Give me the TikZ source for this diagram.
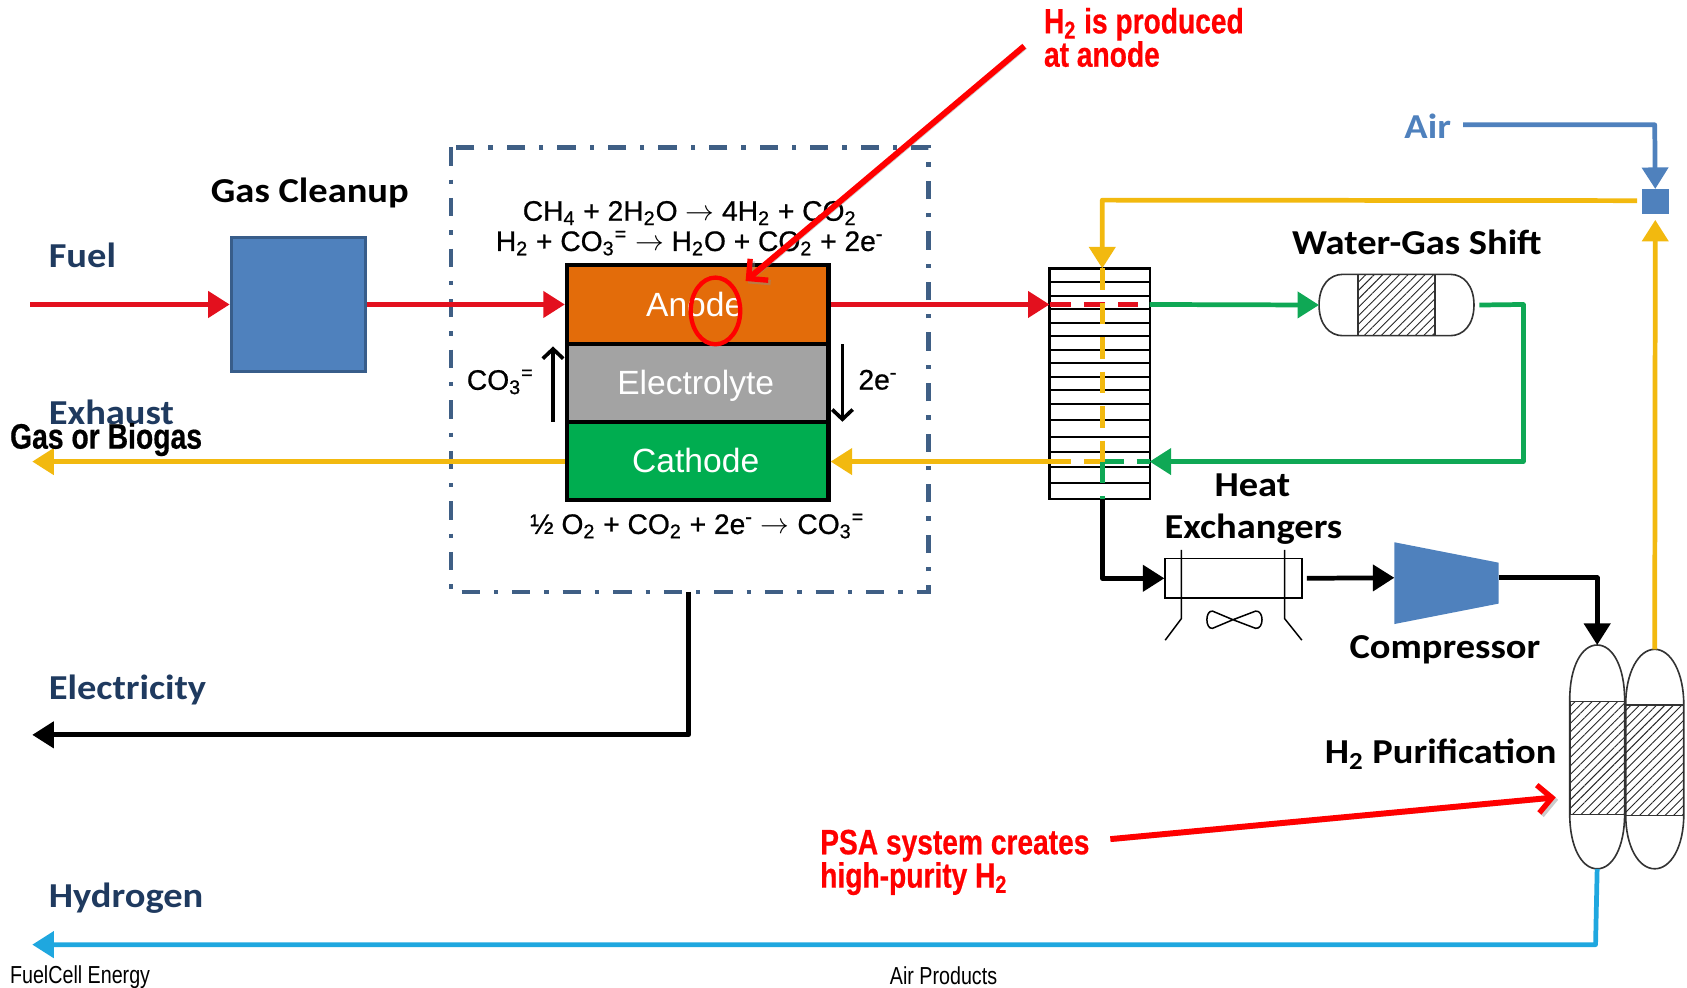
\documentclass[tikz,border=0pt]{standalone}
\usepackage{fontspec}
\setmainfont{Liberation Sans}
\newfontfamily\carl[FakeStretch=1.1]{Carlito}
\newfontfamily\narrowf[FakeStretch=0.8,BoldFeatures={FakeBold=0.5}]{Liberation Sans}
\newfontfamily\eqf[FakeBold=0.7]{Liberation Sans}
\usetikzlibrary{arrows.meta,patterns.meta,calc}
\definecolor{cblue}{HTML}{4F81BD}
\definecolor{cblueb}{HTML}{385D8A}
\definecolor{cred}{HTML}{E3101E}
\definecolor{cyel}{HTML}{F2B90F}
\definecolor{cgrn}{HTML}{0FA855}
\definecolor{ccyan}{HTML}{1FA7DF}
\definecolor{cnavy}{HTML}{1F3A5F}
\definecolor{cdash}{HTML}{3F5F85}
\definecolor{corange}{HTML}{E36C0A}
\definecolor{cgray}{HTML}{A3A3A3}
\definecolor{cgreen}{HTML}{00AD50}
\def\U{.53795pt}
\tikzset{
  x=.53795pt,y=-.53795pt,
  flow/.style={line width=4.4*\U,-{Triangle[length=20*\U,width=24*\U]}},
  flowplain/.style={line width=4.4*\U},
  dashflow/.style={line width=4.4*\U,dash pattern=on 20*\U off 12*\U},
  layer/.style={draw=black,line width=4*\U,minimum width=243*\U,inner sep=0pt,text height=11.6pt,text depth=0pt,font=\fontsize{16.8}{18}\selectfont},
  ghost/.style={inner sep=0pt,outer sep=0pt},
  title/.style={inner sep=0pt,font=\carl\bfseries\fontsize{17.5}{20}\selectfont},
  side/.style={title,anchor=west,text=cnavy},
  eqn/.style={inner sep=0pt,font=\eqf\fontsize{14.1}{15}\selectfont},
  notetext/.style={inner sep=0pt,anchor=base west,text=red,font=\narrowf\bfseries\fontsize{17.6}{19}\selectfont},
  srctext/.style={inner sep=0pt,font=\narrowf\fontsize{12.3}{14}\selectfont},
  note/.style={line width=5.5*\U,draw=red,-{Straight Barb[length=13*\U,width=26*\U,line width=5*\U]},
    preaction={draw=black!45,opacity=.45,transform canvas={shift={(1.2pt,-1.2pt)}}}},
  vessel/.style={draw=black!80,line width=1.5*\U},
  hatchfill/.style={pattern={Lines[angle=45,distance=3pt,line width=.45pt]},pattern color=black!85},
  thin arrow/.style={line width=3.4*\U,-{Straight Barb[length=9*\U,width=19*\U,line width=3.4*\U]}},
}
\begin{document}
\begin{tikzpicture}
\useasboundingbox (0,0) rectangle (1568,917.4);
% enclosure
\node[ghost,minimum width=444*\U,minimum height=413*\U] (cell) at (641,343.5) {};
\draw[cdash,line width=4*\U,dash pattern=on 17*\U off 13*\U on 4*\U off 13*\U] (cell.north west) rectangle (cell.south east);
% nodes
\node[draw=cblueb,line width=3*\U,fill=cblue,minimum width=125*\U,minimum height=124*\U,inner sep=0pt] (gas) at (277.5,283) {};
\node[layer,fill=corange,minimum height=74*\U,text=white] (anode) at (648.5,283) {\hspace*{-3pt}Anode};
\node[layer,fill=cgray,minimum height=72*\U,text=white] (elec) at (648.5,356) {\hspace*{-2pt}Electrolyte};
\node[layer,fill=cgreen,minimum height=73*\U,text=white] (cath) at (648.5,428.5) {\hspace*{-2pt}Cathode};
\node[ghost,minimum width=93*\U,minimum height=214*\U] (hx) at (1022,356.5) {};
\node[ghost,minimum width=144*\U,minimum height=57*\U] (wgs) at (1298,283.5) {};
\node[draw=black,line width=1.5*\U,minimum width=127*\U,minimum height=37*\U,inner sep=0pt] (cooler) at (1146.5,537.5) {};
\node[ghost,minimum width=97*\U,minimum height=10*\U] (comp) at (1344.5,537) {};
\node[ghost,minimum width=51*\U,minimum height=208*\U] (psaA) at (1484.5,703.5) {};
\node[ghost,minimum width=54*\U,minimum height=204*\U] (psaB) at (1538,705.5) {};
\node[draw=none,fill=cblue,minimum width=25*\U,minimum height=23*\U,inner sep=0pt] (mix) at (1538.5,187.5) {};
% free ends
\coordinate (fuelIn) at (28,283);
\coordinate (exOut) at (30,429);
\coordinate (elecOut) at (30,683);
\coordinate (h2Out) at (30,878);
\coordinate (airIn) at (1360,116);
\coordinate (airC) at (1538,116);
\coordinate (hotOut) at (1058,283);
\coordinate (hxMid) at (1024.5,429);
\coordinate (hxTop) at (1024.5,186);
\coordinate (hxBot) at (1024.5,463.5);
\coordinate (cool) at (1024.5,537.5);
\coordinate (wC) at (1416,283);
\coordinate (wD) at (1416,429);
\coordinate (elecC) at (640,683);
\coordinate (h2C) at (1483,878);
% hx stack
\draw[black,line width=2*\U] (hx.north west) rectangle (hx.south east);
\foreach \yy in {261.8,274.8,287.5,299.9,312.6,325.3,337.7,350.1,362.5,375.8,390.4,405.9,419.8,433.8,449.2}
  \draw[black,line width=1.6*\U] (hx.west |- 0,\yy) -- (hx.east |- 0,\yy);
% vessels
\draw[vessel] (1226,283.5) .. controls (1226,265) and (1236,255) .. (1248,255) -- (1348,255) .. controls (1360,255) and (1370,265) .. (1370,283.5) .. controls (1370,302) and (1360,312) .. (1348,312) -- (1248,312) .. controls (1236,312) and (1226,302) .. (1226,283.5) -- cycle;
\path[hatchfill] (1262,255) rectangle (1334,312);
\draw[vessel] (1262,255) rectangle (1334,312);
\draw[vessel] (1459,650) .. controls (1459,620) and (1470,599.5) .. (1484.5,599.5) .. controls (1499,599.5) and (1510,620) .. (1510,650) -- (1510,757) .. controls (1510,787) and (1499,807.5) .. (1484.5,807.5) .. controls (1470,807.5) and (1459,787) .. (1459,757) -- cycle;
\draw[vessel] (1511,655) .. controls (1511,625) and (1523,603.5) .. (1538,603.5) .. controls (1553,603.5) and (1565,625) .. (1565,655) -- (1565,757) .. controls (1565,787) and (1553,807.5) .. (1538,807.5) .. controls (1523,807.5) and (1511,787) .. (1511,757) -- cycle;
\path[hatchfill] (1459,652) rectangle (1510,757);
\draw[vessel] (1459,652) rectangle (1510,757);
\path[hatchfill] (1511,655) rectangle (1565,758);
\draw[vessel] (1511,655) -- (1565,655) (1511,758) -- (1565,758);
% compressor
\fill[cblue] (comp.west |- 0,504) -- (comp.east |- 0,523) -- (comp.east |- 0,561) -- (comp.west |- 0,580) -- cycle;
% cooler details
\draw[black,line width=1.4*\U] (1098,511) -- (1098,575) -- (1083,595);
\draw[black,line width=1.4*\U] (1194,511) -- (1194,575) -- (1210,595);
\draw[black,line width=1.4*\U] (1146,576) -- (1127,568) .. controls (1120,567) and (1120,585) .. (1127,584) -- (1146,576) -- (1167,568) .. controls (1175,567) and (1175,585) .. (1167,584) -- cycle;
% flows
\draw[flow,cred] (fuelIn) -- (gas.west);
\draw[flow,cred] (gas.east) -- (anode.west);
\draw[flow,cred] (anode.east) -- (hx.west |- anode.east);
\draw[dashflow,cred] (hx.west |- anode.east) -- (hotOut);
\draw[flow,cgrn] (hx.east |- anode.east) -- (wgs.west);
\draw[flowplain,cgrn,-{Triangle[length=20*\U,width=24*\U]},line join=round] (wgs.east) ++(5,0) -- (wC) -- (wD) -- (hx.east |- wD);
\draw[flow,cyel] (hx.west |- wD) -- (cath.east |- wD);
\draw[dashflow,cyel] (hx.west |- wD) -- (hxMid);
\draw[dashflow,cgrn] (hxMid) -- (hx.east |- wD);
\draw[flow,cyel] (cath.west |- wD) -- (exOut);
\draw[flow,cyel,line join=round] (mix.west) ++(-4,-1) -- (hxTop) -- (hxTop |- hx.north);
\draw[dashflow,cyel] (hxTop |- hx.north) -- (hxMid);
\draw[dashflow,cgrn] (hxMid) -- (hxBot);
\draw[flow,black,line join=round] (hxBot) -- (cool) -- (cooler.west);
\draw[flow,black] (cooler.east) ++(4,0) -- (comp.west);
\draw[flow,black,line join=round] (comp.east) -| (psaA.north);
\draw[flow,cyel] (psaB.north) -- ($(mix.south)+(0,5)$);
\draw[flow,cblue,line join=round] (airIn) -- (airC) -- (mix.north);
\draw[flow,black,line join=round] (cell.south) ++(-1,0) -- (elecC) -- (elecOut);
\draw[flow,ccyan,line join=round] (psaA.south) -- (h2C) -- (h2Out);
% internal arrows
\draw[thin arrow] (514,392) -- (514,322);
\draw[thin arrow] (783,320) -- (783,392);
% labels
\node[title] (lgas) at (288,179) {Gas Cleanup};
\node[side] (lfuel) at (45,237) {Fuel};
\node[side] (lexh) at (45,383) {Exhaust};
\node[side] (lelec) at (45,641) {Electricity};
\node[side] (lhyd) at (45,835) {Hydrogen};
\node[title] (lwgs) at (1317,225) {Water-Gas Shift};
\node[title] (lheat) at (1164,451) {Heat};
\node[title] (lexc) at (1165,492) {Exchangers};
\node[title] (lcomp) at (1343,604) {Compressor};
\node[title] (lpur) at (1339,701) {H\textsubscript{2} Purification};
\node[title,text=cblue] (lair) at (1327,117) {Air};
\node[inner sep=0pt,anchor=base west,font=\narrowf\bfseries\fontsize{17.7}{19}\selectfont] (lbio) at (9,417) {Gas or Biogas};
\node[eqn] (eq1) at (641,198) {CH\textsubscript{4} + 2H\textsubscript{2}O $\rightarrow$ 4H\textsubscript{2} + CO\textsubscript{2}};
\node[eqn] (eq2) at (641,226) {H\textsubscript{2} + CO\textsubscript{3}\textsuperscript{=} $\rightarrow$ H\textsubscript{2}O + CO\textsubscript{2} + 2e\textsuperscript{-}};
\node[eqn] (eq3) at (648,489) {½ O\textsubscript{2} + CO\textsubscript{2} + 2e\textsuperscript{-} $\rightarrow$ CO\textsubscript{3}\textsuperscript{=}};
\node[eqn] (lco3) at (465,355) {CO\textsubscript{3}\textsuperscript{=}};
\node[eqn] (l2e) at (816,353) {2e\textsuperscript{-}};
\node[srctext,anchor=west] (lfce) at (9,908) {FuelCell Energy};
\node[srctext] (lap) at (877,907) {Air Products};
% annotations
\draw[red,line width=4*\U] (665,289) ellipse (23 and 31);
\node[ghost,minimum size=2*\U] (tipA) at (692,262) {};
\node[ghost,minimum size=2*\U] (tipB) at (1447,741) {};
\node[ghost,minimum size=2*\U] (tailA) at (953,42) {};
\node[ghost,minimum size=2*\U] (tailB) at (1031,780) {};
\draw[note] (tailA) -- (tipA);
\draw[note] (tailB) -- (tipB);
\node[notetext] (n1) at (970,31) {H\textsubscript{2} is produced};
\node[notetext] (n2) at (970,62) {at anode};
\node[notetext] (n3) at (762,794) {PSA system creates};
\node[notetext] (n4) at (762,825) {high-purity H\textsubscript{2}};
\end{tikzpicture}
\end{document}
